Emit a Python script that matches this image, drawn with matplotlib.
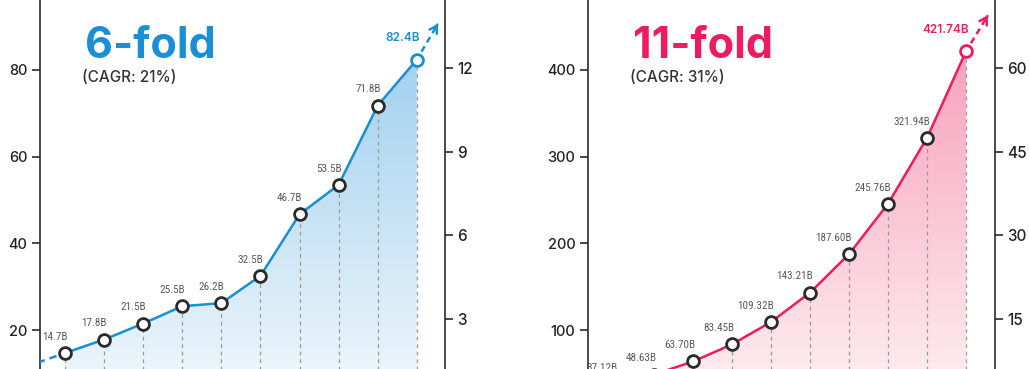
import numpy as np
import matplotlib
matplotlib.use("Agg")
import matplotlib.pyplot as plt
from matplotlib.colors import to_rgb
from matplotlib import font_manager as fm

# ---------------- data ----------------
left_values = [14.7, 17.8, 21.5, 25.5, 26.2, 32.5, 46.7, 53.5, 71.8, 82.4]
left_labels = ["14.7B", "17.8B", "21.5B", "25.5B", "26.2B", "32.5B", "46.7B", "53.5B", "71.8B", "82.4B"]
left_prev = 11.5          # lead-in value before first point (dashed)
left_title = "6-fold"
left_sub = "(CAGR: 21%)"
left_yticks = [20, 40, 60, 80]
left_y2ticks = [3, 6, 9, 12]

right_values = [37.12, 48.63, 63.70, 83.45, 109.32, 143.21, 187.60, 245.76, 321.94, 421.74]
right_labels = ["37.12B", "48.63B", "63.70B", "83.45B", "109.32B", "143.21B", "187.60B", "245.76B", "321.94B", "421.74B"]
right_prev = 28.3
right_title = "11-fold"
right_sub = "(CAGR: 31%)"
right_yticks = [100, 200, 300, 400]
right_y2ticks = [15, 30, 45, 60]

BLUE = "#1a8fd6"
PINK = "#ee1b5e"
DARK = "#2b2b2b"
W, H = 1029, 369

# pick a condensed font for the small value labels
_fonts = [(f.name, f.stretch) for f in fm.fontManager.ttflist]
_names = {n for n, _ in _fonts}
NARROW = None
for pref in ["Liberation Sans Narrow", "Roboto Condensed", "Open Sans Condensed",
             "Noto Sans Condensed", "DejaVu Sans Condensed"]:
    if pref in _names:
        NARROW = dict(family=[pref, "DejaVu Sans"])
        break
if NARROW is None:
    for n, s in _fonts:
        if (isinstance(s, str) and "condensed" in s.lower()) or (isinstance(s, (int, float)) and s < 500):
            NARROW = dict(family=[n, "DejaVu Sans"], fontstretch=s)
            break
if NARROW is None:
    NARROW = dict(family=["Roboto", "DejaVu Sans"])

plt.rcParams['font.family'] = ['Inter', 'DejaVu Sans']
fig = plt.figure(figsize=(W / 100, H / 100), dpi=100)


def px_axes(x0, x1, ytop_px, ybot_px):
    return fig.add_axes([x0 / W, (H - ybot_px) / H, (x1 - x0) / W, (ybot_px - ytop_px) / H])


def panel(x0, x1, values, labels, prev, title, sub, yticks, y2ticks,
          color, top_col, bot_col, ylim, y2lim, xlim, arrow_to):
    ax = px_axes(x0, x1, -5, 416.7)
    ax.set_facecolor("none")
    x = np.arange(len(values))
    y = np.array(values)

    # gradient fill
    poly, = ax.fill(np.r_[x[0], x, x[-1]], np.r_[0, y, 0], facecolor="none", edgecolor="none")
    n = 256
    t = np.linspace(0, 1, n)[:, None]
    c0 = np.array(to_rgb(bot_col)); c1 = np.array(to_rgb(top_col))
    img = c0[None, None, :] * (1 - t[..., None]) + c1[None, None, :] * t[..., None]
    img = np.repeat(img, 2, axis=1)
    im = ax.imshow(img, extent=[x[0], x[-1], 0, y.max()], origin="lower",
                   aspect="auto", zorder=1, interpolation="bilinear")
    im.set_clip_path(poly)

    # vertical dashed drop lines
    for xi, yi in zip(x, y):
        ax.plot([xi, xi], [0, yi], color="#9a9a9a", lw=0.9, ls=(0, (3, 3)), zorder=2)

    # lead-in dashed
    ax.plot([-1, 0], [prev, y[0]], color=color, lw=1.8, ls=(0, (3, 2)), zorder=3)
    # main line
    ax.plot(x, y, color=color, lw=1.8, zorder=3, solid_capstyle="round")
    # markers
    ax.plot(x[:-1], y[:-1], ls="none", marker="o", ms=8.5, mfc="white", mec=DARK, mew=2, zorder=4)
    ax.plot(x[-1:], y[-1:], ls="none", marker="o", ms=8.5, mfc="white", mec=color, mew=2, zorder=4)

    # end arrow (dashed)
    sx = x[-1] + (arrow_to[0] - x[-1]) * 0.22
    sy = y[-1] + (arrow_to[1] - y[-1]) * 0.22
    ax.plot([sx, arrow_to[0]], [sy, arrow_to[1]], color=color, lw=1.8, ls=(0, (2.5, 1.8)), zorder=3,
            clip_on=False)
    ax.annotate("", xy=arrow_to,
                xytext=(arrow_to[0] - (arrow_to[0] - x[-1]) * 0.1, arrow_to[1] - (arrow_to[1] - y[-1]) * 0.1),
                arrowprops=dict(arrowstyle="->,head_length=0.5,head_width=0.3", color=color, lw=1.8),
                annotation_clip=False, zorder=3)

    # labels
    for i, (xi, yi, lab) in enumerate(zip(x, y, labels)):
        if i == len(x) - 1:
            ax.annotate(lab, (xi, yi), xytext=(2, 11), textcoords="offset points",
                        ha="right", va="bottom", fontsize=8.5, color=color, fontweight="semibold",
                        family=["Inter", "DejaVu Sans"], zorder=5)
        else:
            ax.annotate(lab, (xi, yi), xytext=(2, 8), textcoords="offset points",
                        ha="right", va="bottom", fontsize=8, color="#5a5a5a", zorder=5, **NARROW)

    ax.set_xlim(*xlim)
    ax.set_ylim(*ylim)
    ax.set_xticks([])
    ax.set_yticks(yticks)
    ax.tick_params(axis="y", length=6, width=1.2, color=DARK, labelsize=10.5, labelcolor="#222222", pad=3)
    for lab in ax.get_yticklabels():
        lab.set_fontweight("medium")
    for s in ["top", "bottom"]:
        ax.spines[s].set_visible(False)
    ax.spines["left"].set_color(DARK)
    ax.spines["left"].set_linewidth(1.2)
    ax.spines["right"].set_visible(False)

    ax2 = ax.twinx()
    ax2.set_ylim(*y2lim)
    ax2.set_yticks(y2ticks)
    ax2.tick_params(axis="y", length=6, width=1.2, color=DARK, labelsize=11, labelcolor="#222222", pad=3)
    for lab in ax2.get_yticklabels():
        lab.set_fontweight("medium")
    for s in ["top", "bottom", "left"]:
        ax2.spines[s].set_visible(False)
    ax2.spines["right"].set_color(DARK)
    ax2.spines["right"].set_linewidth(1.2)

    # titles
    fig.text((x0 + 45) / W, (H - 58) / H, title, fontsize=31, fontweight="bold", color=color,
             ha="left", va="baseline")
    fig.text((x0 + 42) / W, (H - 82) / H, sub, fontsize=11, fontweight="medium", color="#333333",
             ha="left", va="baseline")
    return ax


panel(40, 445, left_values, left_labels, left_prev, left_title, left_sub, left_yticks, left_y2ticks,
      BLUE, "#a2d1ef", "#f6fafd", (0, 97.3), (-0.502, 14.61), (-0.639, 9.72), (9.54, 90.7))
panel(588, 995, right_values, right_labels, right_prev, right_title, right_sub, right_yticks, right_y2ticks,
      PINK, "#f7a2bd", "#fff4f7", (0, 486.5), (-2.51, 73.09), (-0.692, 9.74), (9.56, 463.2))

fig.savefig("out.png", dpi=100)
